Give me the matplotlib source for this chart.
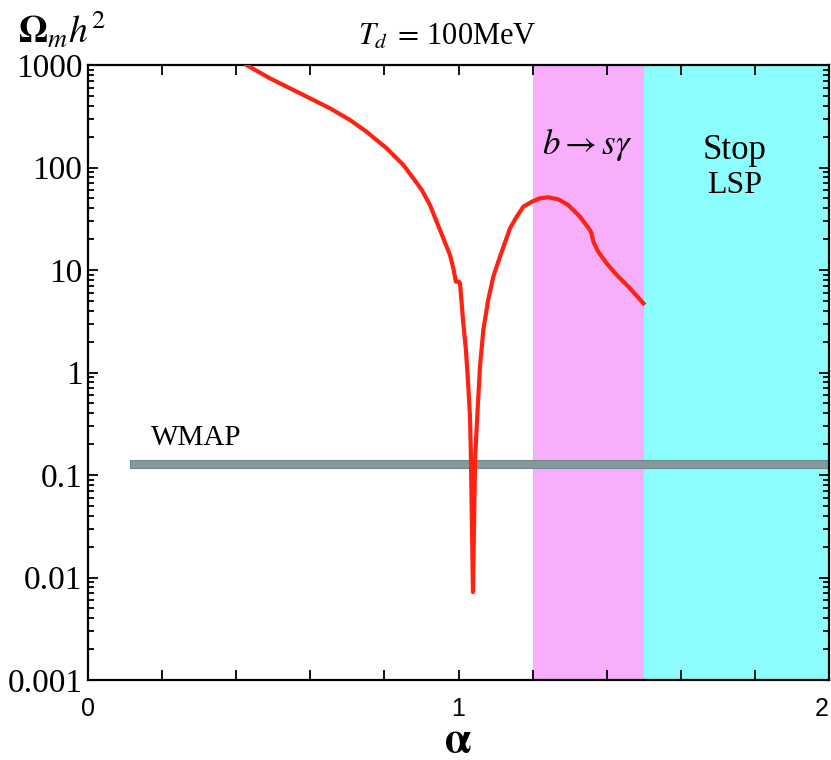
import matplotlib
matplotlib.use('Agg')
import matplotlib.pyplot as plt
from matplotlib.ticker import FixedLocator, FuncFormatter, LogLocator, NullFormatter

plt.rcParams['mathtext.fontset'] = 'stix'
plt.rcParams['font.family'] = ['Liberation Serif', 'DejaVu Serif']

# relic density curve
alpha = [0.428, 0.491, 0.572, 0.653, 0.707, 0.752, 0.806, 0.851, 0.878, 0.901,
         0.923, 0.941, 0.959, 0.977, 0.986, 0.993, 1.001, 1.004, 1.013, 1.020,
         1.026, 1.031, 1.033, 1.039, 1.045, 1.053, 1.058, 1.067, 1.080, 1.094,
         1.112, 1.139, 1.157, 1.175, 1.198, 1.220, 1.242, 1.269, 1.296, 1.328,
         1.355, 1.359, 1.364, 1.377, 1.400, 1.427, 1.463, 1.499]
omega = [1000, 741, 530, 378, 291, 223, 154, 106, 78.5, 60.3,
         43.1, 29.6, 20.4, 14.0, 10.4, 7.69, 7.69, 7.46, 3.02, 1.66,
         0.785, 0.371, 0.189, 0.0072, 0.151, 0.54, 1.14, 2.60, 5.09, 8.61,
         13.5, 25.5, 33.1, 41.5, 46.4, 50.1, 51.2, 49.0, 43.1, 33.1,
         24.5, 22.8, 18.9, 15.1, 11.6, 8.94, 6.62, 4.73]

# excluded regions and WMAP band
bsg_range = [1.2, 1.5]
stop_range = [1.5, 2.0]
wmap_alpha = [0.113, 2.0]
wmap_low, wmap_high = 0.117, 0.14

ytick_vals = [0.001, 0.01, 0.1, 1, 10, 100, 1000]
ytick_labels = ['0.001', '0.01', '0.1', '1', '10', '100', '1000']

fig = plt.figure(figsize=(8.31, 7.6), dpi=100)
ax = fig.add_axes([88 / 831, 1 - 680 / 760, (829 - 88) / 831, (680 - 65) / 760])

ax.axvspan(*bsg_range, color='#f7aefb', lw=0, zorder=0)
ax.axvspan(*stop_range, color='#8cfdfd', lw=0, zorder=0)
ax.fill_between(wmap_alpha, wmap_low, wmap_high, facecolor='#85999f',
                edgecolor='#6f8a8a', lw=0.8, zorder=2)
ax.plot(alpha, omega, color='#ff2212', lw=3, solid_joinstyle='round', zorder=3)

ax.set_yscale('log')
ax.set_xlim(0, 2)
ax.set_ylim(0.001, 1000)

# x ticks every 0.2, labels only at integers
ax.xaxis.set_major_locator(FixedLocator([i * 0.2 for i in range(11)]))
ax.xaxis.set_major_formatter(FuncFormatter(
    lambda v, p: str(int(round(v))) if abs(v - round(v)) < 1e-6 else ''))
ax.yaxis.set_major_locator(FixedLocator(ytick_vals))
ax.yaxis.set_major_formatter(FuncFormatter(
    lambda v, p: ytick_labels[ytick_vals.index(min(ytick_vals, key=lambda t: abs(t - v)))]))
ax.yaxis.set_minor_locator(LogLocator(base=10, subs=range(2, 10), numticks=20))
ax.yaxis.set_minor_formatter(NullFormatter())

ax.tick_params(which='both', direction='in', top=True, right=True, width=1.3)
ax.tick_params(which='major', length=7)
ax.tick_params(which='minor', length=4)
ax.tick_params(axis='y', labelsize=24, pad=4)
ax.tick_params(axis='x', labelsize=18, pad=12)
xlabels = ax.get_xticklabels()
for lab in xlabels:
    lab.set_family(['Liberation Sans', 'DejaVu Sans'])
xlabels[-1].set_ha('right')
for sp in ax.spines.values():
    sp.set_linewidth(1.6)

ax.text(0.17, 0.23, 'WMAP', fontsize=21, ha='left', va='center')
ax.text(1.347, 165, r'$b \rightarrow s\gamma$', fontsize=25, ha='center', va='center')
ax.text(1.746, 148, 'Stop', fontsize=25, ha='center', va='center')
ax.text(1.746, 66, 'LSP', fontsize=23, ha='center', va='center')

fig.text(447 / 831, 1 - 37 / 760, r'$T_d\;=\,$100MeV', fontsize=22, ha='center', va='center')
fig.text(18 / 831, 1 - 30 / 760, r'$\mathbf{\Omega}_m h^2$', fontsize=27, ha='left', va='center')
fig.text(458 / 831, 1 - 742 / 760, r'$\mathbf{\alpha}$', fontsize=30, ha='center', va='center')

fig.savefig('out.png', dpi=100)
